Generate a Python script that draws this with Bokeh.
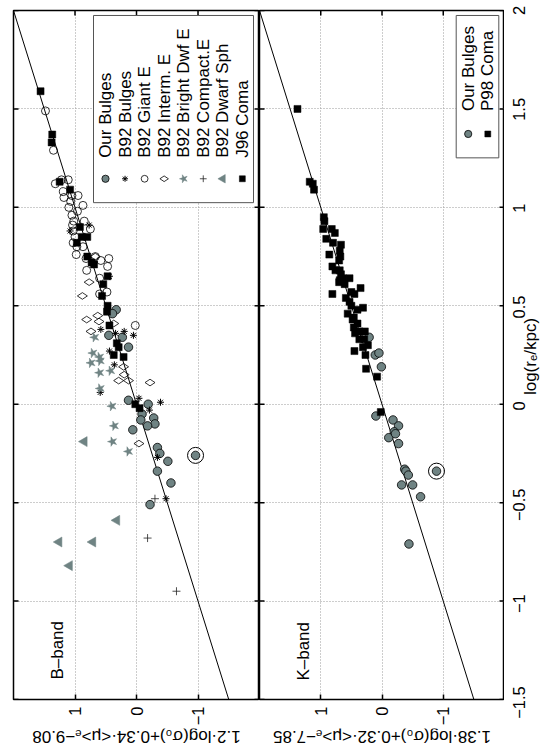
import math
from bokeh.plotting import figure
from bokeh.models import (Range1d, LinearAxis, FixedTicker, Grid, Label,
                          CustomJSTickFormatter)
from bokeh.layouts import row, column
from bokeh.core.properties import value
from bokeh.embed import file_html
from bokeh.resources import INLINE

# ---------------------------------------------------------------- data
# x = log(r_e/kpc), y = fundamental-plane combination
# ---- B band
our_bulges_B_logre = [0.48, 0.46, 0.35, 0.34, 0.29, 0.02, 0.00, -0.05, -0.07, -0.10,
                      -0.08, -0.11, -0.13, -0.22, -0.25, -0.29, -0.34, -0.40, -0.51, -0.26]
our_bulges_B_fp = [0.33, 0.39, 0.45, 0.23, 0.13, 0.13, -0.19, -0.09, -0.28, -0.30,
                   -0.07, -0.18, 0.06, -0.34, -0.38, -0.51, -0.34, -0.56, -0.22, -0.96]
ring_B_logre = [-0.26]
ring_B_fp = [-0.96]

b92_bulges_logre = [0.91, 0.88, 0.65, 0.38, 0.36, 0.37, 0.35, 0.27, 0.20, 0.06, 0.03,
                    0.01, -0.03, -0.27, -0.48]
b92_bulges_fp = [0.77, 1.08, 0.44, 0.58, 0.34, 0.20, 0.05, 0.44, 0.36, 0.59, -0.04,
                 -0.39, -0.21, -0.34, -0.48]

b92_giant_logre = [1.49, 1.29, 1.12, 1.14, 1.14, 1.08, 1.05, 1.06, 1.06, 1.03, 1.00, 1.01,
                   0.98, 0.96, 0.93, 0.93, 0.91, 0.89, 0.88, 0.85, 0.82, 0.80, 0.80, 0.76,
                   0.74, 0.75, 0.73, 0.74, 0.70, 0.68, 0.64, 0.57, 0.56, 0.40]
b92_giant_fp = [1.48, 1.35, 1.32, 1.22, 1.11, 1.19, 1.18, 1.05, 0.95, 1.07, 1.10, 0.87,
                0.96, 1.05, 1.02, 0.85, 1.04, 0.75, 1.03, 1.00, 1.03, 0.97, 0.87, 0.98,
                0.82, 0.67, 0.58, 0.45, 0.47, 0.81, 0.60, 0.48, 0.60, 0.02]

b92_interm_logre = [0.75, 0.62, 0.55, 0.43, 0.45, 0.42, 0.37, 0.41, 0.19, 0.15, 0.12,
                    0.12, 0.11, -0.20]
b92_interm_fp = [0.67, 0.77, 0.88, 0.81, 0.63, 0.61, 0.74, 0.37, 0.21, 0.20, 0.29,
                 0.13, -0.22, -0.04]

b92_brightdwf_logre = [0.34, 0.26, 0.24, 0.21, 0.22, 0.16, 0.17, 0.08, -0.01, -0.11, -0.19, -0.24]
b92_brightdwf_fp = [0.68, 0.71, 0.60, 0.74, 0.59, 0.60, 0.42, 0.59, 0.40, 0.36, 0.39, 0.13]

b92_compact_logre = [-0.48, -0.68, -0.95]
b92_compact_fp = [-0.30, -0.18, -0.65]

b92_dwarfsph_logre = [-0.19, -0.59, -0.70, -0.70, -0.82]
b92_dwarfsph_fp = [0.85, 0.32, 1.26, 0.71, 1.09]

j96_coma_logre = [1.59, 1.37, 1.33, 1.13, 1.09, 0.90, 0.85, 0.85, 0.82, 0.75, 0.72, 0.71,
                  0.65, 0.61, 0.55, 0.50, 0.47, 0.40, 0.31, 0.29, 0.25, 0.24, 0.00, -0.02]
j96_coma_fp = [1.56, 1.37, 1.38, 1.25, 1.08, 0.92, 0.89, 0.80, 0.97, 0.80, 0.73, 0.69,
               0.47, 0.54, 0.56, 0.47, 0.48, 0.44, 0.32, 0.29, 0.37, 0.21, 0.02, -0.05]

# ---- K band
our_bulges_K_logre = [0.34, 0.25, 0.26, 0.19, -0.06, -0.08, -0.11, -0.14, -0.17, -0.15,
                      -0.20, -0.33, -0.34, -0.36, -0.41, -0.41, -0.47, -0.71, -0.34]
our_bulges_K_fp = [0.21, 0.11, 0.05, 0.01, 0.10, -0.18, -0.27, -0.20, -0.11, -0.22,
                   -0.27, -0.37, -0.39, -0.43, -0.32, -0.50, -0.63, -0.44, -0.89]
ring_K_logre = [-0.34]
ring_K_fp = [-0.89]

p98_coma_logre = [1.50, 1.13, 1.12, 1.09, 0.95, 0.93, 0.89, 0.89, 0.87, 0.84, 0.82, 0.81,
                  0.76, 0.78, 0.75, 0.73, 0.70, 0.68, 0.68, 0.66, 0.63, 0.64, 0.64, 0.61,
                  0.62, 0.59, 0.57, 0.56, 0.56, 0.54, 0.52, 0.50, 0.49, 0.48, 0.46, 0.44,
                  0.43, 0.41, 0.39, 0.37, 0.37, 0.36, 0.33, 0.33, 0.30, 0.29, 0.27, 0.25,
                  0.18, 0.14, -0.04]
p98_coma_fp = [1.38, 1.18, 1.13, 1.11, 0.95, 0.94, 0.96, 0.82, 0.77, 0.91, 0.80, 0.67,
               0.86, 0.69, 0.68, 0.70, 0.81, 0.76, 0.69, 0.67, 0.69, 0.64, 0.53, 0.61,
               0.70, 0.35, 0.50, 0.45, 0.81, 0.59, 0.53, 0.50, 0.31, 0.40, 0.56, 0.46,
               0.48, 0.40, 0.46, 0.37, 0.28, 0.44, 0.37, 0.29, 0.23, 0.31, 0.45, 0.27,
               0.26, 0.08, 0.02]

# one-to-one fundamental-plane relation
fit_logre = [-1.5, 2.0]
fit_slope = 1.0
fit_intercept = 0.0

logre_ticks = [-1.5, -1.0, -0.5, 0.0, 0.5, 1.0, 1.5, 2.0]
logre_tick_labels = ["\u22121.5", "\u22121", "\u22120.5", "0", "0.5", "1", "1.5", "2"]
fp_ticks = [-1, 0, 1]

title_B = "1.2\u00b7log(\u03c3\u2080)+0.34\u00b7<\u03bc>\u2091\u22129.08"
title_K = "1.38\u00b7log(\u03c3\u2080)+0.32\u00b7<\u03bc>\u2091\u22127.85"
title_x = "log(r\u2091/kpc)"

# ---------------------------------------------------------------- style / layout
FONT = "Liberation Sans"
GRAY = "#6f8383"
GRID = "#9a9a9a"
TOTAL_H = 748
B_TOP = 10             # frame top (px)
FRAME_H = 692          # frame height (px)
B_BOTTOM = 26          # room for bottom tick labels
PANEL_H = B_TOP + FRAME_H + B_BOTTOM
STRIP_H = TOTAL_H - PANEL_H
B_LEFT = 13
FRAME_W_B = 246
FRAME_W_K = 245
RIGHT_W = 44
LOGRE_RANGE = (-1.5, 2.0)
FP_RANGE = (2.0, -2.0)
HALF = math.pi / 2

fmt = CustomJSTickFormatter(code="""
    const s = Math.abs(tick).toString();
    return tick < 0 ? "\\u2212" + s : s;
""")

STYLES = {
    "our": dict(marker="circle", size=8.5, fill_color=GRAY, line_color="black", line_width=0.8),
    "b92b": dict(marker="asterisk", size=7, line_color="black", line_width=1),
    "giant": dict(marker="circle", size=8, fill_color=None, line_color="black", line_width=0.8),
    "interm": dict(marker="diamond", size=10, angle=HALF, fill_color=None, line_color="black", line_width=0.8),
    "bright": dict(marker="star", size=10, angle=HALF, fill_color=GRAY, line_color=GRAY, line_width=0.5),
    "compact": dict(marker="cross", size=8, line_color="#222222", line_width=0.8),
    "dsph": dict(marker="triangle", size=10, angle=HALF, fill_color=GRAY, line_color=GRAY, line_width=0.5),
    "coma": dict(marker="square", size=7, fill_color="black", line_color="black", line_width=0.5),
}


def legend_style(key):
    st = dict(STYLES[key])
    st["size"] = st["size"] * 0.85
    return st


def bare_figure(width, height, x_range, y_range, **kw):
    f = figure(width=width, height=height, x_range=x_range, y_range=y_range,
               output_backend="svg", toolbar_location=None,
               x_axis_location=None, y_axis_location=None, **kw)
    f.center = []
    f.background_fill_color = "white"
    f.border_fill_color = "white"
    return f


def make_panel(frame_w, bl):
    p = bare_figure(bl + frame_w, PANEL_H, Range1d(*FP_RANGE), Range1d(*LOGRE_RANGE),
                    min_border_left=bl, min_border_right=0,
                    min_border_top=B_TOP, min_border_bottom=B_BOTTOM)
    p.outline_line_color = "black"
    p.outline_line_width = 1.5
    p.add_layout(Grid(dimension=0, ticker=FixedTicker(ticks=fp_ticks),
                      grid_line_color=GRID, grid_line_dash="1 2", grid_line_width=1))
    p.add_layout(Grid(dimension=1, ticker=FixedTicker(ticks=logre_ticks),
                      grid_line_color=GRID, grid_line_dash="1 2", grid_line_width=1))
    ax = LinearAxis(ticker=FixedTicker(ticks=fp_ticks), formatter=fmt,
                    axis_line_color=None,
                    major_tick_in=5, major_tick_out=0,
                    minor_tick_in=0, minor_tick_out=0,
                    major_tick_line_color="black", major_tick_line_width=1.5,
                    major_label_text_font=FONT, major_label_text_color="black",
                    major_label_text_font_size="16.5px",
                    major_label_orientation=HALF, major_label_standoff=7)
    p.add_layout(ax, "below")
    # inward tick marks on the other three sides
    n = len(logre_ticks)
    p.scatter(x=[FP_RANGE[0]] * n + [FP_RANGE[1]] * n, y=logre_ticks + logre_ticks,
              marker="dash", size=10, line_color="black", line_width=1.5)
    p.scatter(x=fp_ticks, y=[LOGRE_RANGE[1]] * len(fp_ticks), marker="dash", angle=HALF,
              size=10, line_color="black", line_width=1.5)
    fp_vals = [fit_slope * v + fit_intercept for v in fit_logre]
    p.line(x=fp_vals, y=fit_logre, line_color="black", line_width=1)
    return p


def ly(py):
    return LOGRE_RANGE[1] - (py - B_TOP) / FRAME_H * (LOGRE_RANGE[1] - LOGRE_RANGE[0])


def make_fx(left_img, frame_w):
    def fx(px):
        return FP_RANGE[0] + (px - left_img) / frame_w * (FP_RANGE[1] - FP_RANGE[0])
    return fx


def add_label(p, x, y, text, angle, align="left", baseline="middle", size="17px"):
    p.add_layout(Label(x=x, y=y, text=text, angle=angle, text_align=align,
                       text_baseline=baseline, text_font=FONT,
                       text_font_size=size, text_color="black"))


# ---------------------------------------------------------------- B panel
pB = make_panel(FRAME_W_B, B_LEFT)
bx = make_fx(B_LEFT, FRAME_W_B)
series_B = [
    ("Our Bulges", "our", our_bulges_B_fp, our_bulges_B_logre),
    ("B92 Bulges", "b92b", b92_bulges_fp, b92_bulges_logre),
    ("B92 Giant E", "giant", b92_giant_fp, b92_giant_logre),
    ("B92 Interm. E", "interm", b92_interm_fp, b92_interm_logre),
    ("B92 Bright Dwf E", "bright", b92_brightdwf_fp, b92_brightdwf_logre),
    ("B92 Compact.E", "compact", b92_compact_fp, b92_compact_logre),
    ("B92 Dwarf Sph", "dsph", b92_dwarfsph_fp, b92_dwarfsph_logre),
    ("J96 Coma", "coma", j96_coma_fp, j96_coma_logre),
]
for name, key, xs, ys in series_B:
    pB.scatter(x=xs, y=ys, **STYLES[key])
pB.scatter(x=ring_B_fp, y=ring_B_logre, marker="circle", size=16,
           fill_color=None, line_color="black", line_width=1)

pB.quad(left=[bx(93)], right=[bx(253)], top=[ly(15)], bottom=[ly(203)],
        fill_color="white", line_color="#555555", line_width=1)
for i, (name, key, _, _) in enumerate(series_B):
    cx = bx(105 + 19.55 * i)
    pB.scatter(x=[cx], y=[ly(179)], **legend_style(key))
    add_label(pB, cx, ly(158), name, HALF)
add_label(pB, bx(56.5), ly(682), "B\u2013band", HALF, baseline="alphabetic")

# ---------------------------------------------------------------- K panel
pK = make_panel(FRAME_W_K, 0)
kx = make_fx(B_LEFT + FRAME_W_B, FRAME_W_K)
series_K = [
    ("Our Bulges", "our", our_bulges_K_fp, our_bulges_K_logre),
    ("P98 Coma", "coma", p98_coma_fp, p98_coma_logre),
]
for name, key, xs, ys in series_K:
    pK.scatter(x=xs, y=ys, **STYLES[key])
pK.scatter(x=ring_K_fp, y=ring_K_logre, marker="circle", size=16,
           fill_color=None, line_color="black", line_width=1)

pK.quad(left=[kx(455.7)], right=[kx(498.3)], top=[ly(15)], bottom=[ly(158)],
        fill_color="white", line_color="#555555", line_width=1)
for i, (name, key, _, _) in enumerate(series_K):
    cx = kx(467.7 + 19.6 * i)
    pK.scatter(x=[cx], y=[ly(134)], **legend_style(key))
    add_label(pK, cx, ly(111), name, HALF)
add_label(pK, kx(302.5), ly(683), "K\u2013band", HALF, baseline="alphabetic")

# ---------------------------------------------------------------- axis titles (bottom strips)
def title_strip(panel, bl, frame_w, text):
    s = bare_figure(bl + frame_w, STRIP_H, panel.x_range, Range1d(0, STRIP_H),
                    min_border_left=bl, min_border_right=0,
                    min_border_top=0, min_border_bottom=0)
    s.outline_line_color = None
    s.text(x=[0], y=[STRIP_H - 8], text=[text], angle=math.pi,
           text_align="center", text_baseline="middle",
           text_font=value(FONT), text_font_size=value("17px"), text_color="black")
    return s


sB = title_strip(pB, B_LEFT, FRAME_W_B, title_B)
sK = title_strip(pK, 0, FRAME_W_K, title_K)

# ---------------------------------------------------------------- right strip: log(re) labels
px_per_unit = FRAME_H / (LOGRE_RANGE[1] - LOGRE_RANGE[0])
r_top = LOGRE_RANGE[1] + B_TOP / px_per_unit
r_bot = LOGRE_RANGE[0] - (TOTAL_H - B_TOP - FRAME_H) / px_per_unit
tR = bare_figure(RIGHT_W, TOTAL_H, Range1d(0, RIGHT_W), Range1d(r_bot, r_top),
                 min_border_left=0, min_border_right=0, min_border_top=0, min_border_bottom=0)
tR.outline_line_color = None
tR.text(x=[14] * len(logre_ticks), y=logre_ticks, text=logre_tick_labels, angle=HALF,
        text_align="center", text_baseline="middle",
        text_font=value(FONT), text_font_size=value("16.5px"), text_color="black")
tR.text(x=[26], y=[sum(LOGRE_RANGE) / 2], text=[title_x], angle=HALF,
        text_align="center", text_baseline="middle",
        text_font=value(FONT), text_font_size=value("17px"), text_color="black")

p = row(column(pB, sB), column(pK, sK), tR)
open("out.html", "w").write(file_html(p, INLINE))
